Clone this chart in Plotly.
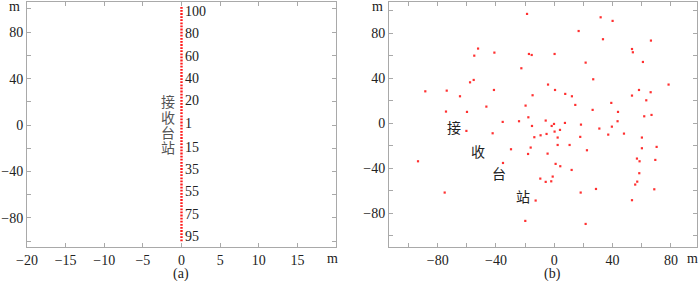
import plotly.graph_objects as go

# ---- data ----
# (a) linear receiver array along x = 0
line_x = [0, 0]
line_y = [-100, 103]
station_labels = ["100", "80", "60", "40", "20", "1", "15", "35", "55", "75", "95"]
station_label_y = [98, 79, 59, 40, 21, 1, -19, -38, -57, -77, -96]

# (b) scattered receiver stations (m)
sx = [-18.7, 31.8, 40.0, 16.7, 33.4, 66.3, -52.3, 53.3, 53.9, -54.9,
      -41.1, -17.4, -15.5, 0.2, 21.5, 60.8, -22.6, 26.7, -57.8, -55.3,
      -88.5, -73.8, -41.4, -4.3, 0.5, 58.1, 66.1, 78.4, -64.7, -14.9,
      7.5, 12.1, 53.3, 63.1, -46.6, -19.7, 14.4, 39.1, -74.3, -59.9,
      26.3, 43.7, 66.7, 61.7, -17.8, -5.9, -35.4, -24.2, -0.2, 7.3,
      18.3, 43.4, -15.3, -1.8, 39.5, 30.9, -60.3, 3.9, 0.2, -42.3,
      -5.3, -9.4, -13.7, 2.3, 17.8, 37.0, 47.8, 60.1, -16.2, 2.3,
      10.5, 22.4, -29.7, 60.1, 70.2, -18.0, -4.6, 56.7, 58.5, 69.3,
      -93.5, -35.2, 0.9, 4.1, 11.9, 58.3, -1.1, -9.6, -5.9, -2.1,
      56.9, 55.5, 28.6, 18.1, 68.6, -75.2, -12.8, 53.3, -19.9, 21.5]
sy = [97.2, 94.2, 91.0, 82.0, 74.7, 73.5, 66.4, 66.0, 63.1, 60.1,
      62.8, 61.6, 60.7, 61.6, 53.9, 54.5, 48.9, 39.1, 36.4, 38.5,
      28.4, 29.0, 29.6, 34.4, 29.6, 29.6, 27.6, 34.4, 24.0, 24.9,
      26.1, 24.0, 24.6, 20.4, 14.8, 15.7, 16.3, 18.1, 10.4, 10.1,
      11.9, 10.1, 7.4, 6.2, 5.3, 2.4, 1.2, 1.8, -0.6, 0.3,
      -1.2, 1.8, -2.4, -2.4, -3.0, -4.7, -6.8, -5.9, -7.4, -8.9,
      -9.5, -10.7, -12.4, -12.7, -12.1, -10.1, -9.2, -12.7, -21.6, -19.3,
      -19.3, -24.0, -23.1, -22.2, -21.0, -27.3, -27.0, -31.4, -33.8, -32.6,
      -33.8, -35.3, -36.1, -38.2, -41.5, -44.4, -47.4, -49.2, -52.1, -51.6,
      -51.9, -54.5, -58.4, -61.6, -58.7, -61.6, -68.7, -68.4, -86.8, -89.5]

chars = ["接", "收", "台", "站"]
# (a) vertical caption positions
ca_x = [-1.7, -1.7, -1.7, -1.7]
ca_y = [20.6, 6.9, -6.0, -18.9]
# (b) diagonal caption positions
cb_x = [-68.8, -52.3, -37.9, -21.4]
cb_y = [-3.6, -24.9, -44.4, -64.9]

xa_ticks = [-20, -15, -10, -5, 0, 5, 10, 15, 20]
xa_text = ["−20", "−15", "−10", "−5", "0", "5", "10", "15", ""]
y_ticks = [-100, -80, -60, -40, -20, 0, 20, 40, 60, 80, 100]
y_text = ["", "−80", "", "−40", "", "0", "", "40", "", "80", ""]
xb_ticks = [-100, -80, -60, -40, -20, 0, 20, 40, 60, 80]
xb_text = ["", "−80", "", "−40", "", "0", "", "40", "", "80"]

SERIF = "Liberation Serif"
CJK = "Noto Sans CJK SC"
FRAME = "#a9a9a9"
RED = "#ff1a1a"

fig = go.Figure()
fig.add_trace(go.Scatter(x=line_x, y=line_y, mode="lines",
                         line=dict(color=RED, width=2.4, dash="1.8px,1.3px"),
                         xaxis="x", yaxis="y", hoverinfo="skip"))
fig.add_trace(go.Scatter(x=sx, y=sy, mode="markers",
                         marker=dict(color="#ff3030", size=2.2, symbol="square",
                                     line=dict(width=0)),
                         xaxis="x2", yaxis="y2"))

ann = []
for t, yv in zip(station_labels, station_label_y):
    ann.append(dict(x=0.25, y=yv, xref="x", yref="y", text=t, showarrow=False,
                    xanchor="left", yanchor="middle",
                    font=dict(family=SERIF, size=14, color="#222")))
for c, xv, yv in zip(chars, ca_x, ca_y):
    ann.append(dict(x=xv, y=yv, xref="x", yref="y", text=c, showarrow=False,
                    xanchor="center", yanchor="middle",
                    font=dict(family=CJK, size=14, color="#555")))
for c, xv, yv in zip(chars, cb_x, cb_y):
    ann.append(dict(x=xv, y=yv, xref="x2", yref="y2", text=c, showarrow=False,
                    xanchor="center", yanchor="middle",
                    font=dict(family=CJK, size=14, color="#222")))

for txt, px, py in [("m", 14, 6), ("m", 332, 258), ("m", 377, 6), ("m", 692, 258),
                    ("(a)", 181, 274), ("(b)", 552, 274)]:
    ann.append(dict(x=px / 700, y=1 - py / 281, xref="paper", yref="paper",
                    text=txt, showarrow=False, xanchor="center", yanchor="middle",
                    font=dict(family=SERIF, size=14, color="#222")))

axis_common = dict(showline=True, linecolor=FRAME, linewidth=1, mirror="ticks",
                   ticks="inside", ticklen=4, tickcolor=FRAME, showgrid=False,
                   zeroline=False, tickfont=dict(family=SERIF, size=14, color="#222"),
                   tickmode="array", automargin=False)

fig.update_layout(
    width=700, height=281, margin=dict(l=0, r=0, t=0, b=0, autoexpand=False),
    paper_bgcolor="white", plot_bgcolor="white", showlegend=False,
    xaxis=dict(domain=[27 / 700, 336 / 700], range=[-20, 20],
               tickvals=xa_ticks, ticktext=xa_text, anchor="y", **axis_common),
    yaxis=dict(domain=[1 - 247 / 281, 1 - 2 / 281], range=[-105, 106],
               tickvals=y_ticks, ticktext=y_text, anchor="x", **axis_common),
    xaxis2=dict(domain=[389 / 700, 697 / 700], range=[-113.4, 97.9],
                tickvals=xb_ticks, ticktext=xb_text, anchor="y2", **axis_common),
    yaxis2=dict(domain=[1 - 247 / 281, 1 - 2 / 281], range=[-110, 107.8],
                tickvals=y_ticks, ticktext=y_text, anchor="x2", **axis_common),
    annotations=ann,
)

fig.write_html("out.html", config={"displayModeBar": False},
               post_script="document.body.style.margin='0';"
                           "document.body.style.overflow='hidden';")
